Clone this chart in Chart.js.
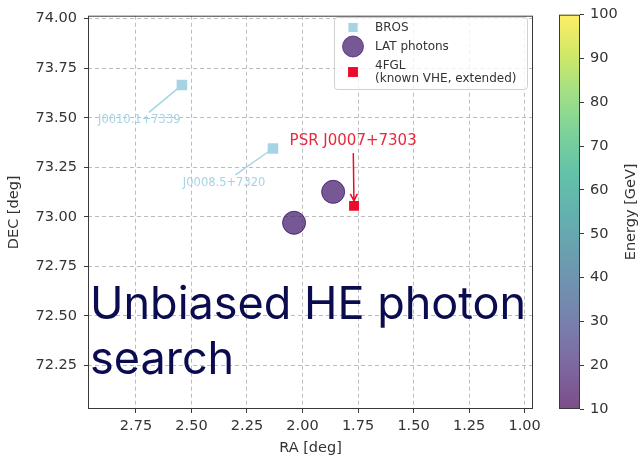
<!DOCTYPE html>
<html>
<head>
<meta charset="utf-8">
<script src="https://cdn.jsdelivr.net/npm/chart.js@4.4.1/dist/chart.umd.min.js"></script>
<style>
  html, body { margin: 0; padding: 0; background: #fff; }
  #wrap { position: relative; width: 640px; height: 457px; overflow: hidden; }
  #wrap canvas { position: absolute; left: 0; top: 0; }
  #overlay {
    position: absolute; left: 90px; top: 275px;
    font-family: Inter, "Noto Sans", sans-serif; font-size: 45px; line-height: 55px;
    color: #0b0b50; white-space: nowrap;
  }
</style>
</head>
<body>
<div id="wrap">
  <canvas id="sky-chart" width="640" height="457"></canvas>
  <canvas id="cbar-chart" width="640" height="457"></canvas>
  <div id="overlay">Unbiased HE photon<br>search</div>
</div>
<script>
// Axis ticks
const raTicks = [1.00, 1.25, 1.50, 1.75, 2.00, 2.25, 2.50, 2.75];
const decTicks = [72.25, 72.50, 72.75, 73.00, 73.25, 73.50, 73.75, 74.00];
const energyTicks = [10, 20, 30, 40, 50, 60, 70, 80, 90, 100];

// BROS sources
const brosNames = ['J0010.1+7339', 'J0008.5+7320'];
const brosRa = [2.543, 2.133];
const brosDec = [73.665, 73.345];
const brosLabelRa = [2.735, 2.353];
const brosLabelDec = [73.487, 73.171];

// LAT photons (energy in GeV)
const latRa = [2.038, 1.862];
const latDec = [72.970, 73.126];
const latEnergy = [18, 18];

// 4FGL source
const fglRa = [1.768];
const fglDec = [73.055];
const psrName = 'PSR J0007+7303';
const psrLabelRa = 1.772;
const psrLabelDec = 73.382;

const ENERGY_MIN = 10;
const ENERGY_MAX = 100;

const FONT = 'DejaVu Sans';
const TEXT_COLOR = '#333333';
const BROS_COLOR = '#a6d4e4';
const FGL_COLOR = '#ee0a2c';
const PSR_COLOR = '#e9283e';

const VIRIDIS = ['#440154', '#482475', '#414487', '#355f8d', '#2a788e', '#21918c',
                 '#22a884', '#44bf70', '#7ad151', '#bddf26', '#fde725'];

function hexToRgb(hex) {
    const n = parseInt(hex.slice(1), 16);
    return [(n >> 16) & 255, (n >> 8) & 255, n & 255];
}

function viridis(t, alpha) {
    t = Math.min(1, Math.max(0, t));
    const pos = t * (VIRIDIS.length - 1);
    const i = Math.min(Math.floor(pos), VIRIDIS.length - 2);
    const f = pos - i;
    const a = hexToRgb(VIRIDIS[i]);
    const b = hexToRgb(VIRIDIS[i + 1]);
    const c = a.map((v, k) => Math.round(v + (b[k] - v) * f));
    return `rgba(${c[0]}, ${c[1]}, ${c[2]}, ${alpha})`;
}

function energyColor(e, alpha) {
    return viridis((e - ENERGY_MIN) / (ENERGY_MAX - ENERGY_MIN), alpha);
}

const toPoints = (xs, ys) => xs.map((x, i) => ({ x: x, y: ys[i] }));

/**
 * Spines around the plot area
 */
const framePlugin = {
    id: 'frame',
    afterDatasetsDraw(chart) {
        const { ctx, chartArea: a } = chart;
        ctx.save();
        ctx.strokeStyle = '#3a3a3a';
        ctx.lineWidth = 1;
        ctx.strokeRect(a.left + 0.5, a.top + 0.5, a.right - a.left - 1, a.bottom - a.top - 1);
        ctx.restore();
    }
};

// Point where the segment text->point leaves the text box
function leaveBox(tx, ty, px, py, halfW, halfH, gap) {
    const dx = px - tx, dy = py - ty;
    const sx = dx !== 0 ? halfW / Math.abs(dx) : Infinity;
    const sy = dy !== 0 ? halfH / Math.abs(dy) : Infinity;
    const len = Math.hypot(dx, dy);
    const s = Math.min(sx, sy) + gap / len;
    return [tx + dx * s, ty + dy * s];
}

/**
 * Source labels with connector lines / arrow
 */
const annotationPlugin = {
    id: 'annotations',
    afterDatasetsDraw(chart) {
        const { ctx, scales: { x, y } } = chart;
        ctx.save();
        ctx.textAlign = 'center';
        ctx.textBaseline = 'middle';

        // BROS labels
        ctx.font = `11.5px "${FONT}"`;
        brosNames.forEach((name, i) => {
            const tx = x.getPixelForValue(brosLabelRa[i]);
            const ty = y.getPixelForValue(brosLabelDec[i]);
            const px = x.getPixelForValue(brosRa[i]);
            const py = y.getPixelForValue(brosDec[i]);
            const w = ctx.measureText(name).width;
            const [sx, sy] = leaveBox(tx, ty, px, py, w / 2 + 2, 8, 0);
            const len = Math.hypot(px - sx, py - sy);
            const ex = px - (px - sx) * 4 / len;
            const ey = py - (py - sy) * 4 / len;
            ctx.strokeStyle = BROS_COLOR;
            ctx.lineWidth = 1.5;
            ctx.beginPath();
            ctx.moveTo(sx, sy);
            ctx.lineTo(ex, ey);
            ctx.stroke();
            ctx.fillStyle = BROS_COLOR;
            ctx.fillText(name, tx, ty);
        });

        // PSR label with arrow to the 4FGL source
        ctx.font = `15px "${FONT}"`;
        const tx = x.getPixelForValue(psrLabelRa);
        const ty = y.getPixelForValue(psrLabelDec);
        const px = x.getPixelForValue(fglRa[0]);
        const py = y.getPixelForValue(fglDec[0]);
        ctx.fillStyle = PSR_COLOR;
        ctx.fillText(psrName, tx, ty);
        const w = ctx.measureText(psrName).width;
        const [sx, sy] = leaveBox(tx, ty, px, py, w / 2 + 2, 9, 3);
        const len = Math.hypot(px - sx, py - sy);
        const ux = (px - sx) / len, uy = (py - sy) / len;
        const hx = px - ux * 5, hy = py - uy * 5;
        ctx.strokeStyle = FGL_COLOR;
        ctx.lineWidth = 1.5;
        ctx.beginPath();
        ctx.moveTo(sx, sy);
        ctx.lineTo(hx, hy);
        // open arrow head
        const hl = 7, hw = 3.5;
        ctx.moveTo(hx - ux * hl - uy * hw, hy - uy * hl + ux * hw);
        ctx.lineTo(hx, hy);
        ctx.lineTo(hx - ux * hl + uy * hw, hy - uy * hl - ux * hw);
        ctx.stroke();
        ctx.restore();
    }
};

/**
 * Legend box in the upper right corner
 */
const legendPlugin = {
    id: 'legendBox',
    afterDraw(chart) {
        const { ctx } = chart;
        const left = 334, top = 17, width = 193, height = 72;
        ctx.save();
        ctx.fillStyle = 'rgba(255, 255, 255, 0.8)';
        ctx.strokeStyle = '#d0d0d0';
        ctx.lineWidth = 1;
        ctx.beginPath();
        ctx.roundRect(left + 0.5, top + 0.5, width, height, 3);
        ctx.fill();
        ctx.stroke();

        ctx.font = `12px "${FONT}"`;
        ctx.textAlign = 'left';
        ctx.textBaseline = 'middle';
        let cursor = top + 4;
        chart.data.datasets.forEach(ds => {
            const lines = ds.label.split('\n');
            const h = lines.length * 13;
            const cy = cursor + h / 2;
            const fill = Array.isArray(ds.backgroundColor) ? ds.backgroundColor[0] : ds.backgroundColor;
            ctx.fillStyle = fill;
            ctx.strokeStyle = fill;
            ctx.lineWidth = ds.borderWidth || 0;
            Chart.helpers.drawPoint(ctx, {
                pointStyle: ds.pointStyle,
                radius: ds.legendRadius,
                rotation: 0,
                borderWidth: ds.borderWidth || 0
            }, left + 19, cy);
            ctx.fillStyle = TEXT_COLOR;
            lines.forEach((line, k) => {
                ctx.fillText(line, left + 41, cursor + 6.5 + k * 13);
            });
            cursor += h + 6;
        });
        ctx.restore();
    }
};

const tickFont = { family: FONT, size: 14.5 };
const titleFont = { family: FONT, size: 14.5 };

const skyChart = new Chart(document.getElementById('sky-chart'), {
    type: 'scatter',
    data: {
        datasets: [
            {
                label: 'BROS',
                data: toPoints(brosRa, brosDec),
                pointStyle: 'rect',
                pointRadius: 7.5,
                legendRadius: 6.5,
                backgroundColor: BROS_COLOR,
                borderWidth: 0
            },
            {
                label: 'LAT photons',
                data: toPoints(latRa, latDec),
                pointStyle: 'circle',
                pointRadius: 11.5,
                legendRadius: 10.5,
                backgroundColor: latEnergy.map(e => energyColor(e, 0.75)),
                borderColor: latEnergy.map(e => energyColor(e, 0.9)),
                borderWidth: 1
            },
            {
                label: '4FGL\n(known VHE, extended)',
                data: toPoints(fglRa, fglDec),
                pointStyle: 'rect',
                pointRadius: 7,
                legendRadius: 7,
                backgroundColor: FGL_COLOR,
                borderWidth: 0
            }
        ]
    },
    options: {
        responsive: false,
        animation: false,
        devicePixelRatio: 1,
        events: [],
        layout: { padding: { left: 0, top: 14, right: 107, bottom: 0 } },
        plugins: {
            legend: { display: false },
            tooltip: { enabled: false }
        },
        scales: {
            x: {
                type: 'linear',
                reverse: true,
                min: 0.962,
                max: 2.966,
                afterBuildTicks: scale => { scale.ticks = raTicks.map(v => ({ value: v })); },
                afterFit: scale => { scale.height = 48; },
                ticks: {
                    font: tickFont,
                    color: TEXT_COLOR,
                    padding: 5,
                    maxRotation: 0,
                    callback: v => v.toFixed(2)
                },
                grid: {
                    color: '#bdbdbd',
                    lineWidth: 1,
                    tickLength: 4,
                    tickColor: '#3a3a3a',
                    tickBorderDash: []
                },
                border: { display: false, dash: [4, 3] },
                title: {
                    display: true,
                    text: 'RA [deg]',
                    font: titleFont,
                    color: TEXT_COLOR,
                    padding: { top: 0, bottom: 0 }
                }
            },
            y: {
                type: 'linear',
                min: 72.03,
                max: 74.015,
                afterBuildTicks: scale => { scale.ticks = decTicks.map(v => ({ value: v })); },
                afterFit: scale => { scale.width = 88; },
                ticks: {
                    font: tickFont,
                    color: TEXT_COLOR,
                    padding: 7,
                    callback: v => v.toFixed(2)
                },
                grid: {
                    color: '#bdbdbd',
                    lineWidth: 1,
                    tickLength: 4,
                    tickColor: '#3a3a3a',
                    tickBorderDash: []
                },
                border: { display: false, dash: [4, 3] },
                title: {
                    display: true,
                    text: 'DEC [deg]',
                    font: titleFont,
                    color: TEXT_COLOR,
                    padding: { top: 6, bottom: 0 }
                }
            }
        }
    },
    plugins: [annotationPlugin, framePlugin, legendPlugin]
});

/**
 * Colour bar: viridis gradient, outline and label
 */
const colorbarPlugin = {
    id: 'colorbar',
    beforeDatasetsDraw(chart) {
        const { ctx, chartArea: a, scales: { y } } = chart;
        ctx.save();
        const grad = ctx.createLinearGradient(0, y.getPixelForValue(ENERGY_MIN), 0, y.getPixelForValue(ENERGY_MAX));
        const n = VIRIDIS.length;
        for (let i = 0; i < n; i++) {
            grad.addColorStop(i / (n - 1), viridis(i / (n - 1), 0.7));
        }
        ctx.fillStyle = grad;
        ctx.fillRect(a.left, a.top, a.right - a.left, a.bottom - a.top);
        ctx.strokeStyle = '#3a3a3a';
        ctx.lineWidth = 1;
        ctx.strokeRect(a.left + 0.5, a.top + 0.5, a.right - a.left - 1, a.bottom - a.top - 1);

        ctx.translate(631, (a.top + a.bottom) / 2);
        ctx.rotate(-Math.PI / 2);
        ctx.font = `14.5px "${FONT}"`;
        ctx.fillStyle = TEXT_COLOR;
        ctx.textAlign = 'center';
        ctx.textBaseline = 'middle';
        ctx.fillText('Energy [GeV]', 0, 0);
        ctx.restore();
    }
};

const cbarChart = new Chart(document.getElementById('cbar-chart'), {
    type: 'scatter',
    data: { datasets: [] },
    options: {
        responsive: false,
        animation: false,
        devicePixelRatio: 1,
        events: [],
        layout: { padding: { left: 559, top: 13, right: 0, bottom: 48 } },
        plugins: {
            legend: { display: false },
            tooltip: { enabled: false }
        },
        scales: {
            x: { display: false, min: 0, max: 1 },
            y: {
                type: 'linear',
                position: 'right',
                min: ENERGY_MIN,
                max: ENERGY_MAX,
                afterBuildTicks: scale => { scale.ticks = energyTicks.map(v => ({ value: v })); },
                afterFit: scale => { scale.width = 60; },
                ticks: {
                    font: tickFont,
                    color: TEXT_COLOR,
                    padding: 6
                },
                grid: {
                    drawOnChartArea: false,
                    tickLength: 4,
                    tickColor: '#3a3a3a',
                    tickBorderDash: []
                },
                border: { display: false }
            }
        }
    },
    plugins: [colorbarPlugin]
});
</script>
</body>
</html>
